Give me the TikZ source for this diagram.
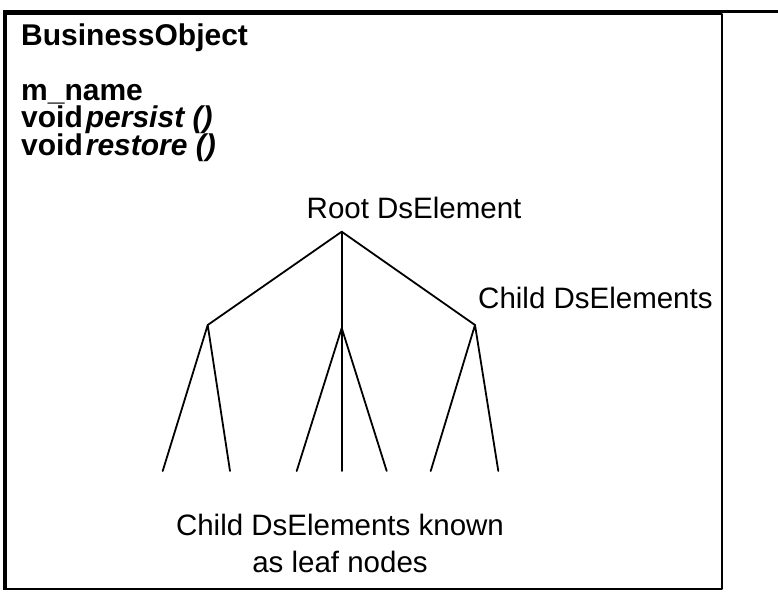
\documentclass[tikz,border=0pt]{standalone}
\usepackage{fontspec}
\setmainfont{Liberation Sans}
\usetikzlibrary{positioning}

\begin{document}
\begin{tikzpicture}[line cap=round,line join=round,x=1pt,y=-1pt,
  lbl/.style={inner sep=0pt,anchor=base west,font=\fontsize{29.5}{30}\selectfont},
  attr/.style={inner sep=0pt,anchor=base west,font=\fontsize{30}{31}\selectfont\bfseries},
  branch/.style={line width=1.8pt}]
\useasboundingbox (0,0) rectangle (778,591);
% frame of the class box
\draw[line width=2.6pt,line cap=butt] (3,11.5) -- (778,11.5);
\draw[line width=2pt,line cap=butt] (5,14) rectangle (721.5,588.5);
\draw[line width=4.5pt,line cap=butt] (5,10.5) -- (5,589.5);
% class name and members
\node[attr] (title) at (21,46) {BusinessObject};
\node[attr] (mname) at (21,100) {m\_name};
\node[attr] (persist) at (21,127.5) {void\kern3pt\textit{persist ()}};
\node[attr] (restore) at (21,155) {void\kern3pt\textit{restore ()}};
% tree labels
\node[lbl] (rootlbl) at (306.5,218) {Root DsElement};
\node[lbl] (childlbl) at (478,308) {Child DsElements};
\node[lbl,anchor=base] (leaflbl) at (340,535) {Child DsElements known};
\node[lbl,anchor=base] (leaflblb) at (340,572) {as leaf nodes};
% tree
\coordinate (root) at (341.7,231.7);
\coordinate (kidL) at (207.7,325);
\coordinate (kidM) at (341.7,328);
\coordinate (kidR) at (475,325);
\foreach \n/\x in {1/162.7,2/230,3/296.7,4/341.7,5/386.7,6/430.7,7/498.3}
  \coordinate (leaf\n) at (\x,471);
\draw[branch] (kidL) -- (root) -- (kidR);
\draw[branch] (root) -- (kidM) -- (leaf4);
\draw[branch] (leaf1) -- (kidL) -- (leaf2);
\draw[branch] (leaf3) -- (kidM) -- (leaf5);
\draw[branch] (leaf6) -- (kidR) -- (leaf7);
\end{tikzpicture}
\end{document}
